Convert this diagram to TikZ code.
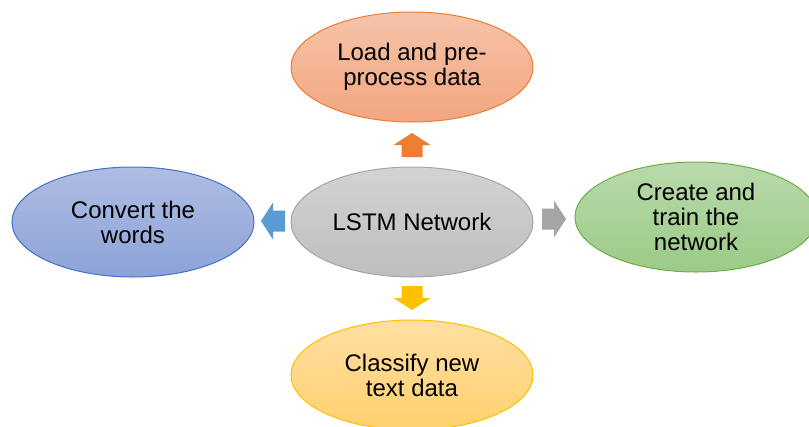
\documentclass[tikz,border=0pt]{standalone}
\usepackage{fontspec}
\setmainfont{Liberation Sans}
\usetikzlibrary{shapes.geometric}
\definecolor{oline}{HTML}{ED7D31}
\definecolor{otop}{HTML}{F6C4AA}
\definecolor{obot}{HTML}{F3A57F}
\definecolor{gline}{HTML}{A5A5A5}
\definecolor{gtop}{HTML}{D3D3D3}
\definecolor{gbot}{HTML}{BEBEBE}
\definecolor{bline}{HTML}{4472C4}
\definecolor{btop}{HTML}{AFBDE3}
\definecolor{bbot}{HTML}{8CA3D8}
\definecolor{grline}{HTML}{70AD47}
\definecolor{grtop}{HTML}{B9DAAC}
\definecolor{grbot}{HTML}{9BCA86}
\definecolor{yline}{HTML}{FFC000}
\definecolor{ytop}{HTML}{FFDFA2}
\definecolor{ybot}{HTML}{FFD06E}
\definecolor{barblue}{HTML}{5B9BD5}
\tikzset{
  bubble/.style={ellipse, draw, line width=1pt, minimum width=242pt, minimum height=110pt,
    inner sep=0pt, align=center, font=\fontsize{24}{25}\selectfont, text=black},
  pics/barrow/.style={code={
    \fill[#1] (-12,-10.5) -- (0,-10.5) -- (0,-18.5) -- (12,0) -- (0,18.5) -- (0,10.5) -- (-12,10.5) -- cycle;
  }}
}
\begin{document}
\begin{tikzpicture}[x=1pt,y=-1pt]
\useasboundingbox (0,0) rectangle (809,426);
\clip (0,0) rectangle (809,426);
\node[bubble, draw=oline, top color=otop, bottom color=obot] (load) at (412,67) {Load and pre-\\process data};
\node[bubble, draw=gline, top color=gtop, bottom color=gbot] (lstm) at (412,222) {LSTM Network};
\node[bubble, draw=bline, top color=btop, bottom color=bbot] (conv) at (133,222) {Convert the\\words};
\node[bubble, draw=grline, top color=grtop, bottom color=grbot] (train) at (696,217) {Create and\\train the\\network};
\node[bubble, draw=yline, top color=ytop, bottom color=ybot] (class) at (412,375) {Classify new\\text data};
\coordinate (aup) at (412,145);
\coordinate (adown) at (412,298);
\coordinate (aleft) at (273,221);
\coordinate (aright) at (554,219);
\pic[rotate=90] at (aup) {barrow=oline};
\pic[rotate=-90] at (adown) {barrow=yline};
\pic[rotate=180] at (aleft) {barrow=barblue};
\pic at (aright) {barrow=gline};
\end{tikzpicture}
\end{document}
